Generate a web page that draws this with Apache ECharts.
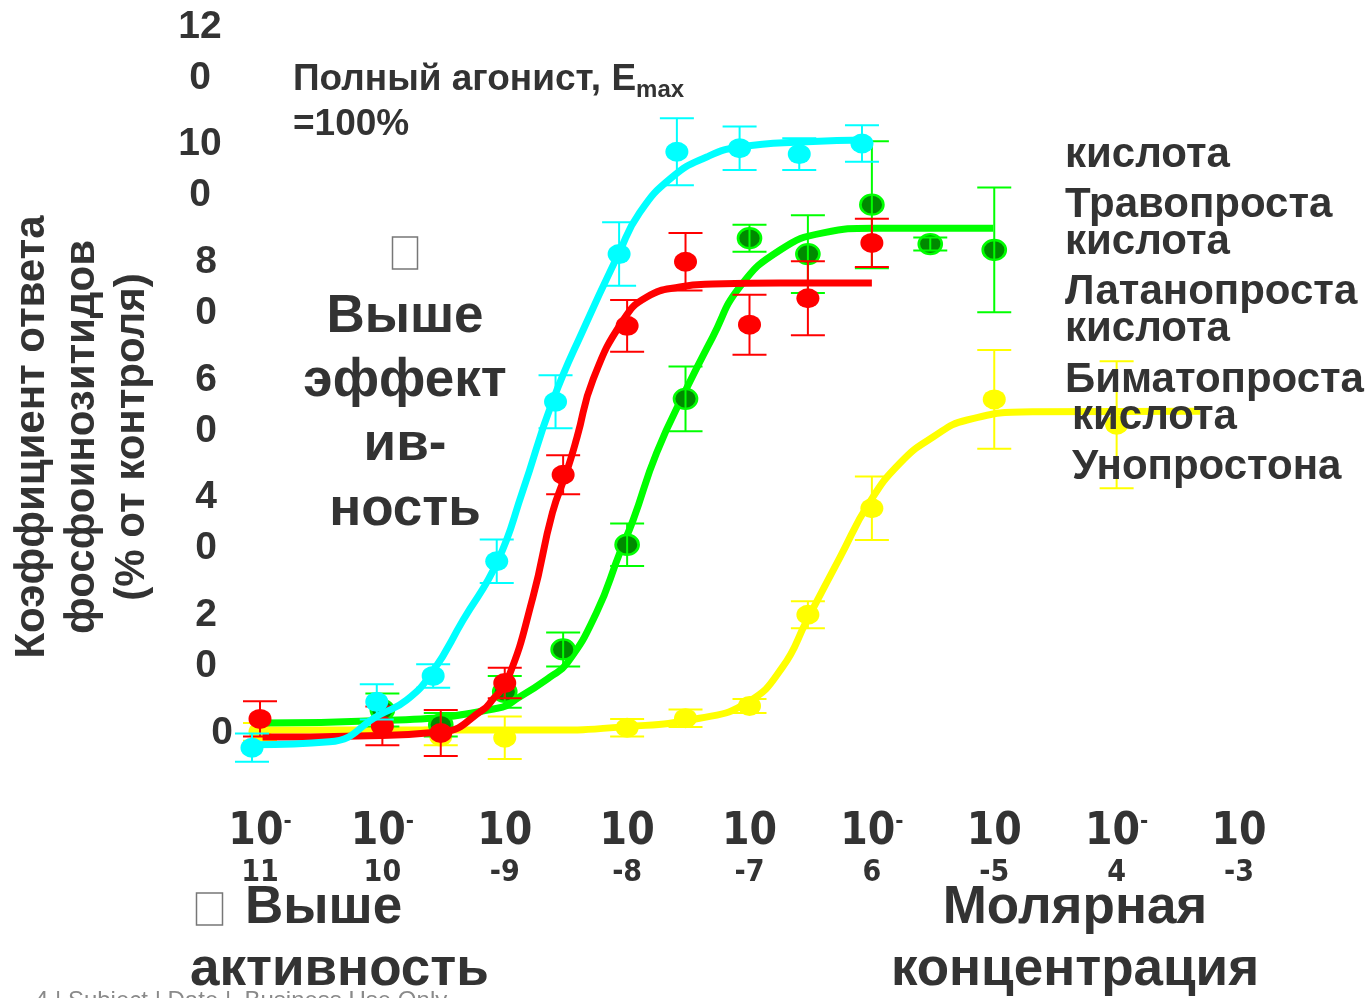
<!DOCTYPE html>
<html>
<head>
<meta charset="utf-8">
<script src="https://cdn.jsdelivr.net/npm/echarts/dist/echarts.min.js"></script>
<style>
  html, body { margin: 0; padding: 0; background: #fff; }
  #chart { width: 1371px; height: 998px; }
</style>
</head>
<body>
<div id="chart"></div>
<script>
// ---- Tick labels ----
const yTicks = [0, 20, 40, 60, 80, 100, 120];
const yTickText = ['0', '2\n0', '4\n0', '6\n0', '8\n0', '10\n0', '12\n0'];
const xTickExp = ['11', '10', '-9', '-8', '-7', '6', '-5', '4', '-3'];
const xTickSup = ['-', '-', '', '', '', '-', '', '-', ''];

// ---- Measured points (molar concentration, % response, error) ----
// Travoprost acid (cyan)
const cyanDose = [8.6e-12, 9.0e-11, 2.6e-10, 8.6e-10, 2.6e-9, 8.6e-9, 2.55e-8, 8.3e-8, 2.55e-7, 8.3e-7];
const cyanVal  = [-2.5, 5.3, 9.7, 29.2, 56.3, 81.4, 98.8, 99.4, 98.4, 100.2];
const cyanErr  = [2.4, 3.0, 2.0, 3.7, 4.5, 5.4, 5.7, 3.7, 2.7, 3.1];
// Latanoprost acid (red)
const redDose = [1e-11, 1e-10, 3e-10, 1e-9, 3e-9, 1e-8, 3e-8, 1e-7, 3e-7, 1e-6];
const redVal  = [2.4, 1.2, 0.0, 8.5, 43.9, 69.2, 80.1, 69.4, 73.9, 83.3];
const redErr  = [3.0, 3.3, 3.9, 2.6, 3.3, 4.4, 4.9, 5.1, 6.3, 4.1];
// Bimatoprost acid (green)
const greenDose = [1e-10, 3e-10, 1e-9, 3e-9, 1e-8, 3e-8, 1e-7, 3e-7, 1e-6, 3e-6, 1e-5];
const greenVal  = [3.9, 1.4, 7.0, 14.2, 32.0, 56.8, 84.1, 81.4, 89.8, 83.1, 82.1];
const greenErr  = [2.8, 2.0, 2.7, 2.9, 3.6, 5.5, 2.3, 6.6, 10.8, 1.1, 10.6];
// Unoprostone (yellow)
const yellowDose = [1e-11, 3e-10, 1e-9, 1e-8, 3e-8, 1e-7, 3e-7, 1e-6, 1e-5, 1e-4];
const yellowVal  = [0.2, -0.6, -0.8, 0.9, 2.5, 4.6, 20.1, 38.2, 56.7, 52.4];
const yellowErr  = [1.5, 1.5, 3.6, 1.5, 1.5, 1.2, 2.3, 5.4, 8.4, 10.8];

// ---- Fitted concentration-response curves ----
const cyanCurveDose = [9.1e-12, 3.7e-11, 9.5e-11, 1.58e-10, 2.57e-10, 4.57e-10, 8.7e-10, 1.41e-9, 2.45e-9, 4.57e-9, 8.5e-9, 1.26e-8, 2.34e-8, 4.47e-8, 8.3e-8, 2.95e-7, 9.1e-7];
const cyanCurveVal  = [-2.0, -1.5, 3.1, 5.6, 10.4, 19.2, 29.1, 41.3, 56.3, 69.4, 81.4, 88.4, 94.5, 97.9, 99.6, 100.5, 100.8];
const redCurveDose = [1.05e-11, 6.3e-11, 3.1e-10, 6.6e-10, 7.9e-10, 1.05e-9, 1.7e-9, 2.45e-9, 3.24e-9, 3.9e-9, 5.25e-9, 9.3e-9, 1.45e-8, 2.7e-8, 5.0e-8, 1.78e-7, 1e-6];
const redCurveVal  = [-0.7, -0.5, 0.2, 3.9, 5.6, 9.0, 23.1, 37.4, 44.7, 50.3, 60.0, 70.2, 74.1, 75.8, 76.3, 76.5, 76.5];
const greenCurveDose = [1.05e-11, 1.32e-10, 8.7e-10, 1.32e-9, 2.34e-9, 3.24e-9, 5.6e-9, 8.7e-9, 1.12e-8, 1.74e-8, 3.1e-8, 5.0e-8, 8.3e-8, 1.78e-7, 4.0e-7, 1.02e-6, 9.8e-6];
const greenCurveVal  = [1.7, 2.2, 4.2, 6.1, 9.5, 11.9, 20.4, 30.6, 36.2, 47.6, 58.8, 67.3, 75.8, 82.1, 85.0, 85.8, 85.8];
const yellowCurveDose = [1.05e-11, 2.34e-9, 8.7e-9, 3.9e-8, 9.8e-8, 1.86e-7, 2.95e-7, 5.5e-7, 9.5e-7, 1.7e-6, 3.16e-6, 6.0e-6, 2.1e-5, 4.8e-4];
const yellowCurveVal  = [0.5, 0.5, 1.0, 2.5, 5.3, 11.2, 19.2, 29.9, 39.1, 45.9, 50.3, 53.2, 54.6, 54.7];

const TEXT = '#333333';
const FONT = "'Liberation Sans', Arial, Helvetica, sans-serif";
const NARROW = "'Liberation Sans Narrow', 'Arial Narrow', 'DejaVu Sans Condensed', 'Liberation Sans', sans-serif";

function pairs(xs, ys) { return xs.map((x, i) => [x, ys[i]]); }
function bars(xs, ys, es) { return xs.map((x, i) => [x, ys[i] - es[i], ys[i] + es[i]]); }

function errorBarRenderer(color) {
  return function (params, api) {
    const x = api.value(0);
    const pLo = api.coord([x, api.value(1)]);
    const pHi = api.coord([x, api.value(2)]);
    const half = 17;
    const st = { stroke: color, lineWidth: 2 };
    return {
      type: 'group',
      children: [
        { type: 'line', shape: { x1: pLo[0], y1: pLo[1], x2: pHi[0], y2: pHi[1] }, style: st },
        { type: 'line', shape: { x1: pLo[0] - half, y1: pLo[1], x2: pLo[0] + half, y2: pLo[1] }, style: st },
        { type: 'line', shape: { x1: pHi[0] - half, y1: pHi[1], x2: pHi[0] + half, y2: pHi[1] }, style: st }
      ]
    };
  };
}

function group(name, color, fill, border, dose, val, err, cDose, cVal, z) {
  return [
    {
      name: name + ' fit', type: 'line', data: pairs(cDose, cVal),
      smooth: 0.5, showSymbol: false, symbol: 'none', clip: false,
      lineStyle: { color: color, width: 7, cap: 'butt', join: 'round' }, z: z, silent: true, animation: false
    },
    {
      name: name, type: 'scatter', data: pairs(dose, val), clip: false,
      symbol: 'circle', symbolSize: [23, 20],
      itemStyle: { color: fill, borderColor: border, borderWidth: border === fill ? 0 : 2.5, opacity: 1 },
      z: z + 1, silent: true, animation: false
    },
    {
      name: name + ' SEM', type: 'custom', data: bars(dose, val, err),
      renderItem: errorBarRenderer(color), encode: { x: 0, y: [1, 2] },
      clip: false, z: z + 2, silent: true, animation: false
    }
  ];
}

const chart = echarts.init(document.getElementById('chart'), null, { renderer: 'canvas' });

// Two-line tick labels keep their first line on the tick: a short spacer line on
// top balances a short last line so the block centre falls on the first line.
const yBase = { fontFamily: FONT, fontWeight: 'bold', fontSize: 39, color: TEXT };
const yLabelRich = {
  sp:  Object.assign({}, yBase, { lineHeight: 12 }),
  w1:  Object.assign({}, yBase, { lineHeight: 90, padding: [0, 12, 0, 0] }),
  w2:  Object.assign({}, yBase, { lineHeight: 12, padding: [0, 12, 0, 0] }),
  m1:  Object.assign({}, yBase, { lineHeight: 90 }),
  m2:  Object.assign({}, yBase, { lineHeight: 12 }),
  z:   Object.assign({}, yBase, { lineHeight: 40, padding: [0, 0, 0, 32] })
};

// The value axis runs one step past the last labelled tick (140, unlabelled),
// with the grid extended upward so 0–120 keeps its place on the page.
const option = {
  backgroundColor: '#ffffff',
  animation: false,
  grid: { left: 260, right: 132, top: -90.67, bottom: 265, containLabel: false, outerBoundsMode: 'none' },
  xAxis: {
    type: 'log', logBase: 10, min: 1e-11, max: 1e-3, splitNumber: 8,
    axisLine: { show: false }, axisTick: { show: false }, splitLine: { show: false },
    axisLabel: {
      margin: 78, verticalAlign: 'top', align: 'center', showMinLabel: true, showMaxLabel: true, hideOverlap: false,
      formatter: function (v) {
        const i = Math.round(Math.log10(v)) + 11;
        const sup = xTickSup[i] ? '{s|' + xTickSup[i] + '}' : '';
        return '{b|10}' + sup + '\n{n|' + xTickExp[i] + '}';
      },
      rich: {
        b: { fontFamily: NARROW, fontWeight: 'bold', fontSize: 44, lineHeight: 44, color: TEXT },
        s: { fontFamily: NARROW, fontWeight: 'bold', fontSize: 22, lineHeight: 44, color: TEXT, verticalAlign: 'top' },
        n: { fontFamily: NARROW, fontWeight: 'bold', fontSize: 30, lineHeight: 36, color: TEXT }
      }
    }
  },
  yAxis: {
    type: 'value', min: 0, max: 140, interval: 20,
    axisLine: { show: false }, axisTick: { show: false }, splitLine: { show: false },
    axisLabel: {
      margin: 54, align: 'center', verticalAlign: 'middle', hideOverlap: false,
      formatter: function (v) {
        const t = yTickText[yTicks.indexOf(v)];
        if (t === undefined) return '';
        const parts = t.split('\n');
        if (parts.length === 1) return '{z|' + parts[0] + '}';
        const p = parts[0].length > 1 ? 'w' : 'm';
        return '{sp| }\n{' + p + '1|' + parts[0] + '}\n{' + p + '2|' + parts[1] + '}';
      },
      rich: yLabelRich
    }
  },
  series: [].concat(
    group('Унопростон', '#ffff00', '#ffff00', '#ffff00', yellowDose, yellowVal, yellowErr, yellowCurveDose, yellowCurveVal, 10),
    group('Биматопроста кислота', '#00ff00', '#008a00', '#00ff00', greenDose, greenVal, greenErr, greenCurveDose, greenCurveVal, 20),
    group('Латанопроста кислота', '#ff0000', '#ff0000', '#ff0000', redDose, redVal, redErr, redCurveDose, redCurveVal, 30),
    group('Травопроста кислота', '#00ffff', '#00ffff', '#00ffff', cyanDose, cyanVal, cyanErr, cyanCurveDose, cyanCurveVal, 40)
  ),
  graphic: [
    // y-axis title
    {
      type: 'text', x: 82, y: 437, rotation: Math.PI / 2, z: 100,
      style: {
        text: 'Коэффициент ответа\nфосфоинозитидов\n(% от контроля)',
        font: 'bold 42px ' + FONT, lineHeight: 50, fill: TEXT, align: 'center', verticalAlign: 'middle'
      }
    },
    // full agonist note
    {
      type: 'text', x: 293, y: 57, z: 100,
      style: {
        text: '{t|Полный агонист, E}{sub|max}\n{t|=100%}',
        align: 'left', verticalAlign: 'top',
        rich: {
          t: { font: 'bold 37px ' + FONT, lineHeight: 45, fill: TEXT },
          sub: { font: 'bold 24px ' + FONT, lineHeight: 10, fill: TEXT, verticalAlign: 'bottom' }
        }
      }
    },
    // efficacy note
    { type: 'rect', shape: { x: 392.5, y: 237, width: 25, height: 32 }, style: { fill: '#fff', stroke: '#777', lineWidth: 1.5 }, z: 100 },
    {
      type: 'text', x: 405, y: 413.5, z: 100,
      style: { text: 'Выше\nэффект\nив-\nность', font: 'bold 53px ' + FONT, lineHeight: 64.3, fill: TEXT, align: 'center', verticalAlign: 'middle' }
    },
    // potency note
    { type: 'rect', shape: { x: 196.5, y: 893, width: 26, height: 32 }, style: { fill: '#fff', stroke: '#777', lineWidth: 1.5 }, z: 100 },
    {
      type: 'text', x: 245, y: 908, z: 100,
      style: { text: 'Выше', font: 'bold 53px ' + FONT, fill: TEXT, align: 'left', verticalAlign: 'middle' }
    },
    {
      type: 'text', x: 190, y: 970, z: 100,
      style: { text: 'активность', font: 'bold 53px ' + FONT, fill: TEXT, align: 'left', verticalAlign: 'middle' }
    },
    // x-axis title
    {
      type: 'text', x: 1075, y: 939, z: 100,
      style: { text: 'Молярная\nконцентрация', font: 'bold 53px ' + FONT, lineHeight: 62, fill: TEXT, align: 'center', verticalAlign: 'middle' }
    },
    // series names
    {
      type: 'text', x: 1065, y: 155, z: 100,
      style: { text: 'кислота', font: 'bold 42px ' + FONT, fill: TEXT, align: 'left', verticalAlign: 'middle' }
    },
    {
      type: 'text', x: 1065, y: 224, z: 100,
      style: { text: 'Травопроста\nкислота', font: 'bold 42px ' + FONT, lineHeight: 37, fill: TEXT, align: 'left', verticalAlign: 'middle' }
    },
    {
      type: 'text', x: 1065, y: 311, z: 100,
      style: { text: 'Латанопроста\nкислота', font: 'bold 42px ' + FONT, lineHeight: 37, fill: TEXT, align: 'left', verticalAlign: 'middle' }
    },
    {
      type: 'text', x: 1065, y: 380, z: 100,
      style: { text: 'Биматопроста', font: 'bold 42px ' + FONT, fill: TEXT, align: 'left', verticalAlign: 'middle' }
    },
    {
      type: 'text', x: 1072, y: 417, z: 100,
      style: { text: 'кислота', font: 'bold 42px ' + FONT, fill: TEXT, align: 'left', verticalAlign: 'middle' }
    },
    {
      type: 'text', x: 1072, y: 467, z: 100,
      style: { text: 'Унопростона', font: 'bold 42px ' + FONT, fill: TEXT, align: 'left', verticalAlign: 'middle' }
    },
    // footer
    {
      type: 'text', x: 35, y: 989, z: 90,
      style: { text: '4 | Subject | Date |  Business Use Only', font: '24px ' + FONT, fill: '#8a8a8a', align: 'left', verticalAlign: 'top' }
    }
  ]
};

chart.setOption(option);
</script>
</body>
</html>
